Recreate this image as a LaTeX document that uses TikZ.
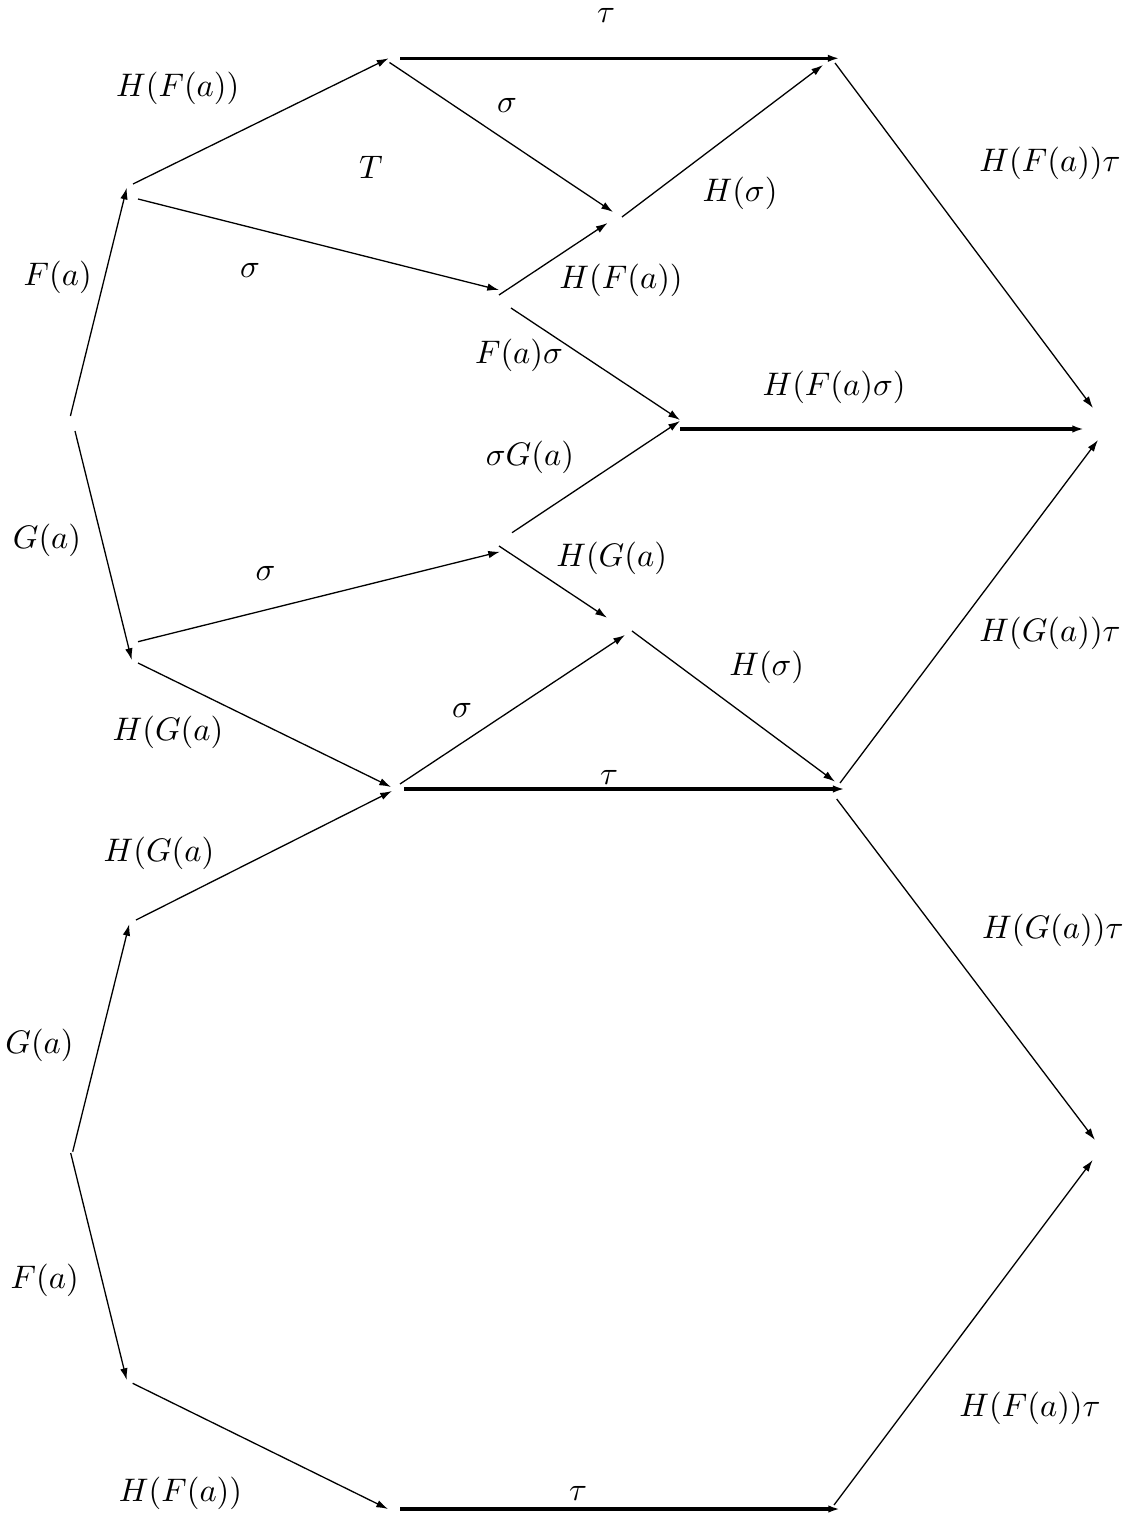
\documentclass[tikz,border=0pt]{standalone}
\usetikzlibrary{arrows.meta}
\begin{document}
\begin{tikzpicture}[x=0.3067pt,y=-0.3067pt,
  tip/.style={-{Latex[length=3.6pt,width=2.3pt]}},
  thinarr/.style={tip,line width=0.4pt},
  thickarr/.style={tip,line width=0.95pt},
  lbl/.style={inner sep=0pt}]
\useasboundingbox (0,0) rectangle (1127,1514);
% edge end points
\coordinate (s1) at (70.4,416);    \coordinate (t1) at (126.8,187.7);
\coordinate (s2) at (133,184);     \coordinate (t2) at (388.6,58.3);
\coordinate (s3) at (400,58.3);    \coordinate (t3) at (839.5,58.3);
\coordinate (s4) at (389.5,62.5);  \coordinate (t4) at (613,212);
\coordinate (s5) at (622,217);     \coordinate (t5) at (823,65);
\coordinate (s6) at (138,199);     \coordinate (t6) at (499,290);
\coordinate (s7) at (499,295);     \coordinate (t7) at (607.6,223);
\coordinate (s8) at (511,308);     \coordinate (t8) at (680,420);
\coordinate (s9) at (680,429);     \coordinate (t9) at (1084,429);
\coordinate (s10) at (835,63);     \coordinate (t10) at (1093,408);
\coordinate (s11) at (512,532.7);  \coordinate (t11) at (680,421);
\coordinate (s12) at (75,431);     \coordinate (t12) at (131.7,660);
\coordinate (s13) at (138,641.7);  \coordinate (t13) at (500,551.7);
\coordinate (s14) at (499,546);    \coordinate (t14) at (607,617.7);
\coordinate (s15) at (632,631);    \coordinate (t15) at (835,781.7);
\coordinate (s16) at (840,783);    \coordinate (t16) at (1098,440);
\coordinate (s17) at (138,663);    \coordinate (t17) at (391,787);
\coordinate (s18) at (400,784);    \coordinate (t18) at (625,635);
\coordinate (s19) at (404,789);    \coordinate (t19) at (844.6,789);
\coordinate (s20) at (136,920);    \coordinate (t20) at (392,791);
\coordinate (s21) at (72.7,1151.7);\coordinate (t21) at (129.3,924);
\coordinate (s22) at (70.7,1153);  \coordinate (t22) at (126.7,1380);
\coordinate (s23) at (132.7,1383.3);\coordinate (t23) at (388,1509);
\coordinate (s24) at (400,1509);   \coordinate (t24) at (840,1509);
\coordinate (s25) at (834,1505);   \coordinate (t25) at (1092.7,1160);
\coordinate (s26) at (836.7,799);  \coordinate (t26) at (1095,1140);
% connectors
\draw[thinarr] (s1) -- (t1);
\draw[thinarr] (s2) -- (t2);
\draw[thickarr] (s3) -- (t3);
\draw[thinarr] (s4) -- (t4);
\draw[thinarr] (s5) -- (t5);
\draw[thinarr] (s6) -- (t6);
\draw[thinarr] (s7) -- (t7);
\draw[thinarr] (s8) -- (t8);
\draw[thickarr] (s9) -- (t9);
\draw[thinarr] (s10) -- (t10);
\draw[thinarr] (s11) -- (t11);
\draw[thinarr] (s12) -- (t12);
\draw[thinarr] (s13) -- (t13);
\draw[thinarr] (s14) -- (t14);
\draw[thinarr] (s15) -- (t15);
\draw[thinarr] (s16) -- (t16);
\draw[thinarr] (s17) -- (t17);
\draw[thinarr] (s18) -- (t18);
\draw[thickarr] (s19) -- (t19);
\draw[thinarr] (s20) -- (t20);
\draw[thinarr] (s21) -- (t21);
\draw[thinarr] (s22) -- (t22);
\draw[thinarr] (s23) -- (t23);
\draw[thickarr] (s24) -- (t24);
\draw[thinarr] (s25) -- (t25);
\draw[thinarr] (s26) -- (t26);
% labels
\node[lbl] (lT)   at (371,167)   {$T$};
\node[lbl] (l3)   at (606,15)    {$\tau$};
\node[lbl] (l2)   at (177.7,88)  {$H(F(a))$};
\node[lbl] (l4)   at (507,105)   {$\sigma$};
\node[lbl] (l10)  at (1050,163)  {$H(F(a))\tau$};
\node[lbl] (l5)   at (740,193)   {$H(\sigma)$};
\node[lbl] (l1)   at (57.7,277)  {$F(a)$};
\node[lbl] (l6)   at (250,270)   {$\sigma$};
\node[lbl] (l7)   at (621,280)   {$H(F(a))$};
\node[lbl] (l8)   at (519,355)   {$F(a)\sigma$};
\node[lbl] (l9)   at (834,387)   {$H(F(a)\sigma)$};
\node[lbl] (l11)  at (530,457)   {$\sigma G(a)$};
\node[lbl] (l12)  at (47,540)    {$G(a)$};
\node[lbl] (l14)  at (611.6,558) {$H(G(a)$};
\node[lbl] (l13)  at (265.6,573) {$\sigma$};
\node[lbl] (l16)  at (1050,633)  {$H(G(a))\tau$};
\node[lbl] (l15)  at (766.7,667) {$H(\sigma)$};
\node[lbl] (l18)  at (462,710)   {$\sigma$};
\node[lbl] (l17)  at (168,732)   {$H(G(a)$};
\node[lbl] (l19)  at (609,777)   {$\tau$};
\node[lbl] (l20)  at (159,853)   {$H(G(a)$};
\node[lbl] (l26)  at (1052.8,930){$H(G(a))\tau$};
\node[lbl] (l21)  at (39.5,1045) {$G(a)$};
\node[lbl] (l22)  at (44.7,1280) {$F(a)$};
\node[lbl] (l25)  at (1030,1408) {$H(F(a))\tau$};
\node[lbl] (l23)  at (180.5,1493){$H(F(a))$};
\node[lbl] (l24)  at (578,1493)  {$\tau$};
\end{tikzpicture}
\end{document}
